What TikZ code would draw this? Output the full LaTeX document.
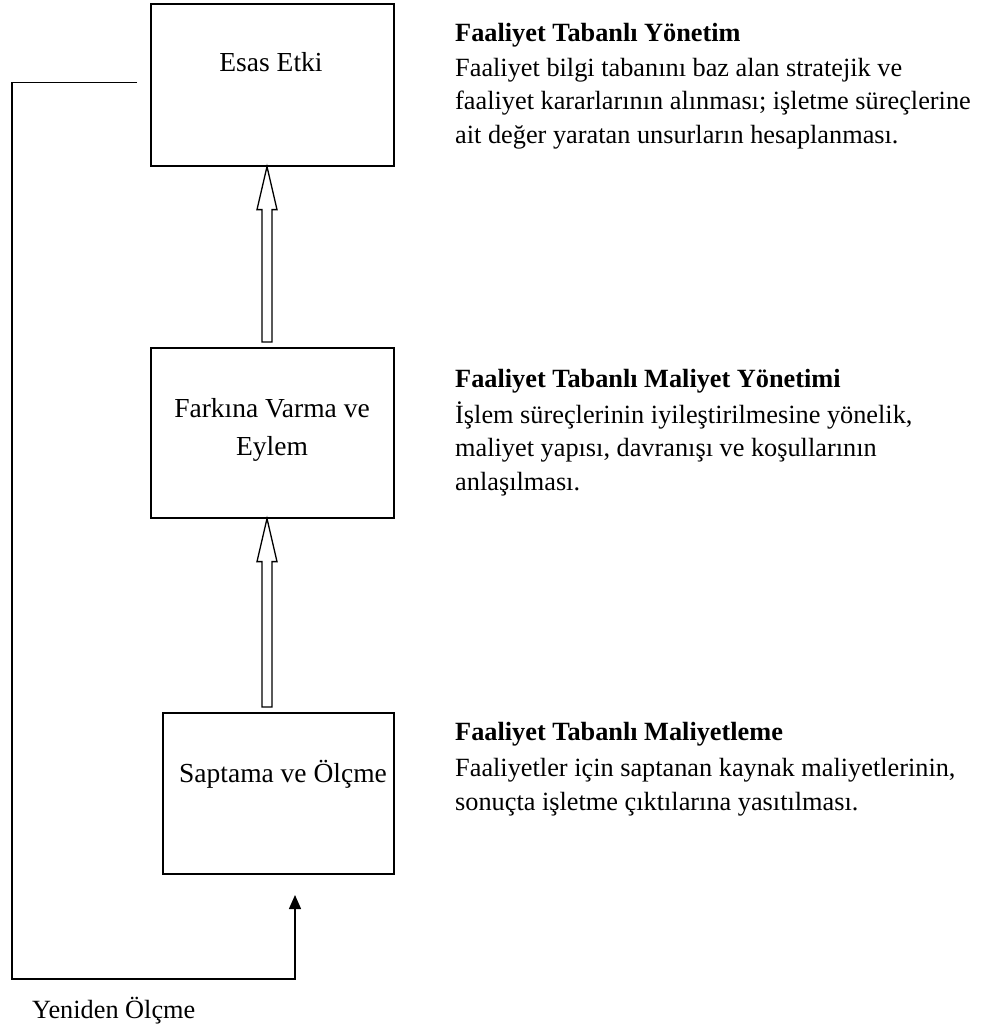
\documentclass[tikz,border=0pt]{standalone}
\usepackage{fontspec}
\setmainfont{Liberation Serif}
\usetikzlibrary{calc,arrows.meta}
\begin{document}
\begin{tikzpicture}[x=1pt,y=-1pt,
  box/.style={draw, line width=1.6pt, rectangle, inner sep=0pt, anchor=north west},
  boxtext/.style={font=\fontsize{27.5}{38}\selectfont, anchor=base, inner sep=0pt},
  desc/.style={font=\fontsize{26.3}{33}\selectfont, anchor=base west, inner sep=0pt},
  desctitle/.style={desc, font=\fontsize{26.3}{33}\selectfont\bfseries},
  hollow/.style={draw, line width=1.3pt, fill=white, line join=miter},
  link/.style={draw, line width=1.3pt},
]
\useasboundingbox (0,0) rectangle (988,1030);
% boxes
\node[box, minimum width=243pt, minimum height=162pt] (b1) at (150,3) {};
\node[box, minimum width=243pt, minimum height=170pt] (b2) at (150,347) {};
\node[box, minimum width=231pt, minimum height=161pt] (b3) at (162,712) {};
% box texts
\node[boxtext] (t1) at (271,72) {Esas Etki};
\node[boxtext] (t2a) at (272,417) {Farkına Varma ve};
\node[boxtext] (t2b) at (272,455) {Eylem};
\node[boxtext] (t3) at (283,782) {Saptama ve Ölçme};
% hollow arrows
\coordinate (a1tip) at (267,0 |- b1.south);
\draw[hollow] (a1tip) -- ++(10,43) -- ++(-5,0) -- ($(a1tip |- b2.north)+(5,-5)$) -- ++(-10,0)
  -- ($(a1tip)+(-5,43)$) -- ++(-5,0) -- cycle;
\coordinate (a2tip) at (267,0 |- b2.south);
\draw[hollow] (a2tip) -- ++(10,43) -- ++(-5,0) -- ($(a2tip |- b3.north)+(5,-5)$) -- ++(-10,0)
  -- ($(a2tip)+(-5,43)$) -- ++(-5,0) -- cycle;
% feedback loop
\coordinate (fbstart) at ($(b1.west)+(-13,-2)$);
\coordinate (fbc1) at (12,0 |- fbstart);
\coordinate (fbc2) at (12,979);
\coordinate (fbc3) at (295,979);
\coordinate (fbtip) at (295,895);
\draw[link, -{Triangle[width=12pt,length=14pt]}] (fbstart) -- (fbc1) -- (fbc2) -- (fbc3) -- (fbtip);
\node[desc] (lbl) at (32,1018) {Yeniden Ölçme};
% descriptions
\node[desctitle] (d1t) at (455,42) {Faaliyet Tabanlı Yönetim};
\node[desc] (d1a) at (455,77) {Faaliyet bilgi tabanını baz alan stratejik ve};
\node[desc] (d1b) at (455,110) {faaliyet kararlarının alınması; işletme süreçlerine};
\node[desc] (d1c) at (455,143) {ait değer yaratan unsurların hesaplanması.};
\node[desctitle] (d2t) at (455,387) {Faaliyet Tabanlı Maliyet Yönetimi};
\node[desc] (d2a) at (455,423) {İşlem süreçlerinin iyileştirilmesine yönelik,};
\node[desc] (d2b) at (455,456) {maliyet yapısı, davranışı ve koşullarının};
\node[desc] (d2c) at (455,490) {anlaşılması.};
\node[desctitle] (d3t) at (455,740) {Faaliyet Tabanlı Maliyetleme};
\node[desc] (d3a) at (455,776) {Faaliyetler için saptanan kaynak maliyetlerinin,};
\node[desc] (d3b) at (455,810) {sonuçta işletme çıktılarına yasıtılması.};
\end{tikzpicture}
\end{document}
